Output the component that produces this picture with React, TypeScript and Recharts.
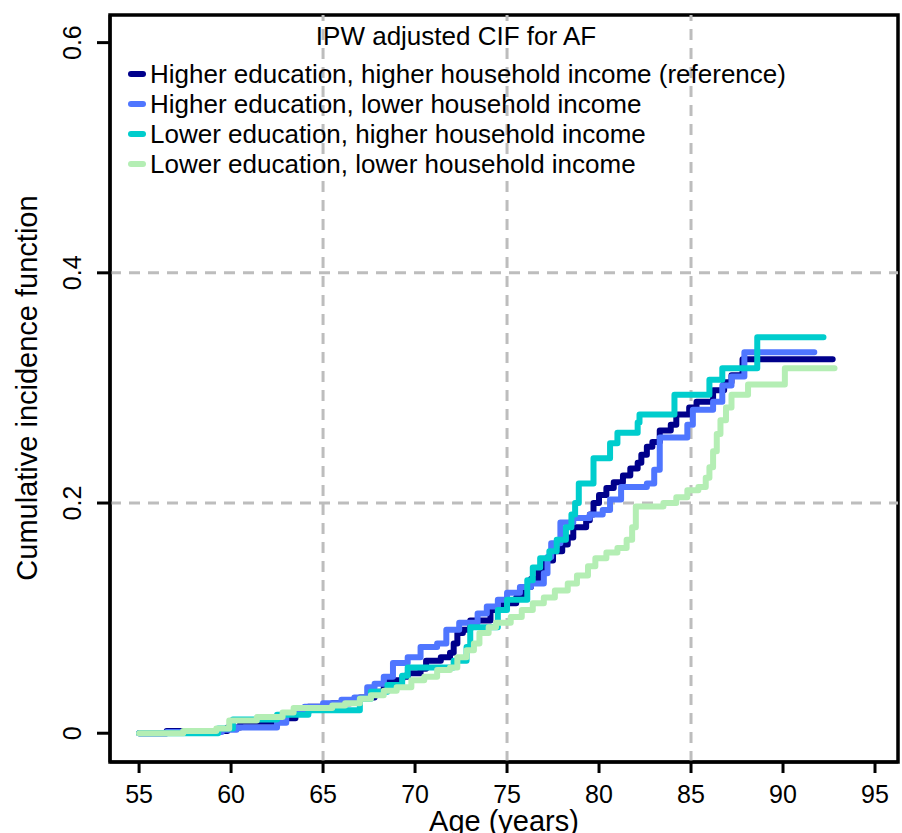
import { Label, Legend, Line, LineChart, ReferenceArea, ReferenceLine, XAxis, YAxis } from "recharts";

const FONT = "'Liberation Sans', Arial, Helvetica, sans-serif";

const AGE_TICKS = [55, 60, 65, 70, 75, 80, 85, 90, 95];
const CIF_TICKS = [0, 0.2, 0.4, 0.6];
const AGE_GRID = [65, 75, 85];
const CIF_GRID = [0.2, 0.4];
const AGE_DOMAIN: [number, number] = [53.42, 96.25];
const CIF_DOMAIN: [number, number] = [-0.025, 0.624];

const GROUPS = [
  "Higher education, higher household income (reference)",
  "Higher education, lower household income",
  "Lower education, higher household income",
  "Lower education, lower household income",
];
const COLORS = ["#00008B", "#4F76FF", "#00CDCD", "#B4EEB4"];

// higher education, higher income (reference)
const hhAge = [55.0, 56.5, 59.8, 60.5, 62.5, 63.5, 64.2, 65.5, 66.5, 67.0, 67.8, 68.3, 68.6, 69.3, 69.6, 70.3, 70.6, 71.4, 71.9, 72.1, 72.3, 72.6, 73.0, 74.1, 74.8, 75.5, 75.9, 76.3, 76.7, 77.1, 77.5, 78.0, 78.3, 78.6, 79.3, 79.5, 79.7, 80.0, 80.4, 80.8, 81.3, 81.7, 82.1, 82.3, 82.6, 82.9, 83.3, 83.9, 84.2, 84.9, 85.3, 86.2, 86.8, 87.2, 87.8, 92.7];
const hhCif = [0, 0.002, 0.005, 0.01, 0.013, 0.018, 0.023, 0.026, 0.028, 0.031, 0.036, 0.04, 0.046, 0.049, 0.052, 0.056, 0.063, 0.066, 0.07, 0.078, 0.087, 0.09, 0.098, 0.107, 0.113, 0.118, 0.127, 0.134, 0.142, 0.15, 0.158, 0.164, 0.17, 0.179, 0.185, 0.19, 0.2, 0.207, 0.213, 0.218, 0.224, 0.23, 0.235, 0.242, 0.249, 0.253, 0.263, 0.268, 0.277, 0.283, 0.288, 0.298, 0.305, 0.311, 0.325, 0.325];

// higher education, lower income
const hlAge = [55.0, 56.5, 59.5, 60.3, 62.5, 63.0, 64.0, 65.0, 66.0, 66.7, 67.4, 67.8, 68.3, 68.8, 69.6, 70.3, 71.2, 71.7, 72.4, 73.4, 73.9, 74.5, 75.0, 75.7, 76.3, 77.0, 77.2, 77.4, 77.9, 78.6, 79.5, 80.2, 80.6, 81.2, 82.6, 83.0, 83.3, 84.8, 85.1, 86.2, 86.7, 87.2, 87.9, 91.7];
const hlCif = [0, 0.001, 0.003, 0.005, 0.009, 0.017, 0.023, 0.026, 0.029, 0.031, 0.04, 0.043, 0.049, 0.061, 0.066, 0.075, 0.078, 0.09, 0.096, 0.104, 0.11, 0.116, 0.122, 0.127, 0.13, 0.139, 0.153, 0.165, 0.183, 0.187, 0.19, 0.194, 0.203, 0.214, 0.217, 0.229, 0.257, 0.268, 0.281, 0.288, 0.302, 0.31, 0.331, 0.331];

// lower education, higher income
const lhAge = [55.0, 59.3, 60.1, 62.5, 64.2, 67.0, 67.6, 68.5, 69.3, 69.6, 72.1, 72.8, 73.0, 74.5, 75.0, 76.1, 76.4, 76.8, 77.3, 77.7, 78.2, 78.5, 78.7, 78.9, 79.7, 80.6, 81.0, 82.1, 82.2, 84.1, 86.0, 86.7, 88.6, 92.2];
const lhCif = [0, 0.004, 0.012, 0.016, 0.02, 0.03, 0.036, 0.042, 0.05, 0.057, 0.063, 0.075, 0.092, 0.107, 0.116, 0.133, 0.144, 0.152, 0.158, 0.168, 0.179, 0.19, 0.2, 0.217, 0.239, 0.252, 0.261, 0.27, 0.277, 0.294, 0.307, 0.317, 0.344, 0.344];

// lower education, lower income
const llAge = [55.0, 57.4, 59.2, 59.9, 61.4, 62.8, 63.4, 65.5, 66.2, 67.0, 67.6, 68.3, 69.0, 69.8, 70.5, 71.2, 71.9, 72.3, 72.8, 73.2, 73.5, 74.0, 74.4, 75.2, 75.8, 76.4, 77.0, 77.6, 78.3, 78.8, 79.4, 79.8, 80.4, 81.0, 81.5, 81.8, 82.0, 83.5, 84.2, 84.8, 85.4, 85.8, 86.0, 86.2, 86.4, 86.6, 86.9, 87.2, 88.1, 90.1, 92.8];
const llCif = [0, 0.002, 0.004, 0.011, 0.014, 0.018, 0.022, 0.024, 0.026, 0.03, 0.033, 0.037, 0.04, 0.046, 0.049, 0.055, 0.057, 0.066, 0.072, 0.078, 0.087, 0.092, 0.096, 0.101, 0.107, 0.113, 0.118, 0.124, 0.13, 0.137, 0.145, 0.152, 0.157, 0.161, 0.168, 0.179, 0.197, 0.2, 0.205, 0.211, 0.214, 0.222, 0.231, 0.245, 0.26, 0.272, 0.283, 0.294, 0.303, 0.317, 0.317];

const toSteps = (ages: number[], cif: number[]) => ages.map((age, i) => ({ age, cif: cif[i] }));

const SERIES = [
  toSteps(hhAge, hhCif),
  toSteps(hlAge, hlCif),
  toSteps(lhAge, lhCif),
  toSteps(llAge, llCif),
];

function AgeTick({ x, y, payload }: any) {
  return (
    <text x={x} y={y + 30} textAnchor="middle" fontSize={25} fill="#000">
      {payload.value}
    </text>
  );
}

function CifTick({ x, y, payload }: any) {
  return (
    <text transform={`translate(${x - 16},${y}) rotate(-90)`} textAnchor="middle" fontSize={25} fill="#000">
      {payload.value}
    </text>
  );
}

function CifLegend() {
  return (
    <svg width={902} height={190} style={{ display: "block", fontFamily: FONT }}>
      <text x={456} y={45} textAnchor="middle" fontSize={26} fill="#000">
        IPW adjusted CIF for AF
      </text>
      {GROUPS.map((name, i) => (
        <g key={name}>
          <line x1={131} x2={143} y1={74 + i * 30} y2={74 + i * 30} stroke={COLORS[i]} strokeWidth={6} strokeLinecap="round" />
          <text x={150} y={83 + i * 30} fontSize={26} fill="#000">
            {name}
          </text>
        </g>
      ))}
    </svg>
  );
}

export default function App() {
  const axisStroke = { stroke: "#000", strokeWidth: 3 };

  return (
    <div style={{ position: "absolute", left: 0, top: 0, fontFamily: FONT, background: "#fff" }}>
      <LineChart width={902} height={833} margin={{ top: 15, right: 4, bottom: 0, left: 0 }}>
        <XAxis
          type="number"
          dataKey="age"
          domain={AGE_DOMAIN}
          ticks={AGE_TICKS}
          interval={0}
          allowDataOverflow
          height={71}
          tickSize={11}
          tickMargin={0}
          axisLine={axisStroke}
          tickLine={axisStroke}
          tick={(p: any) => <AgeTick {...p} />}
        >
          <Label
            content={() => (
              <text x={504} y={831} textAnchor="middle" fontSize={29} fill="#000">
                Age (years)
              </text>
            )}
          />
        </XAxis>
        <YAxis
          type="number"
          domain={CIF_DOMAIN}
          ticks={CIF_TICKS}
          interval={0}
          allowDataOverflow
          width={110}
          tickSize={13}
          tickMargin={0}
          axisLine={axisStroke}
          tickLine={axisStroke}
          tick={(p: any) => <CifTick {...p} />}
        >
          <Label
            content={() => (
              <text transform="translate(37,388) rotate(-90)" textAnchor="middle" fontSize={29} fill="#000">
                Cumulative incidence function
              </text>
            )}
          />
        </YAxis>

        {AGE_GRID.map((a) => (
          <ReferenceLine key={`v${a}`} x={a} stroke="#bdbdbd" strokeWidth={3} strokeDasharray="11 8" />
        ))}
        {CIF_GRID.map((c) => (
          <ReferenceLine key={`h${c}`} y={c} stroke="#bdbdbd" strokeWidth={3} strokeDasharray="11 8" />
        ))}
        <ReferenceArea
          x1={AGE_DOMAIN[0]}
          x2={AGE_DOMAIN[1]}
          y1={CIF_DOMAIN[0]}
          y2={CIF_DOMAIN[1]}
          fill="none"
          stroke="#000"
          strokeWidth={3.5}
          ifOverflow="visible"
        />

        {SERIES.map((data, i) => (
          <Line
            key={GROUPS[i]}
            name={GROUPS[i]}
            data={data}
            dataKey="cif"
            type="stepAfter"
            stroke={COLORS[i]}
            strokeWidth={6}
            strokeLinecap="round"
            strokeLinejoin="round"
            dot={false}
            activeDot={false}
            isAnimationActive={false}
          />
        ))}

        <Legend
          content={() => <CifLegend />}
          layout="horizontal"
          verticalAlign="middle"
          align="center"
          wrapperStyle={{ top: 0, left: 0, width: 902, height: 190, pointerEvents: "none" }}
        />
      </LineChart>
    </div>
  );
}
